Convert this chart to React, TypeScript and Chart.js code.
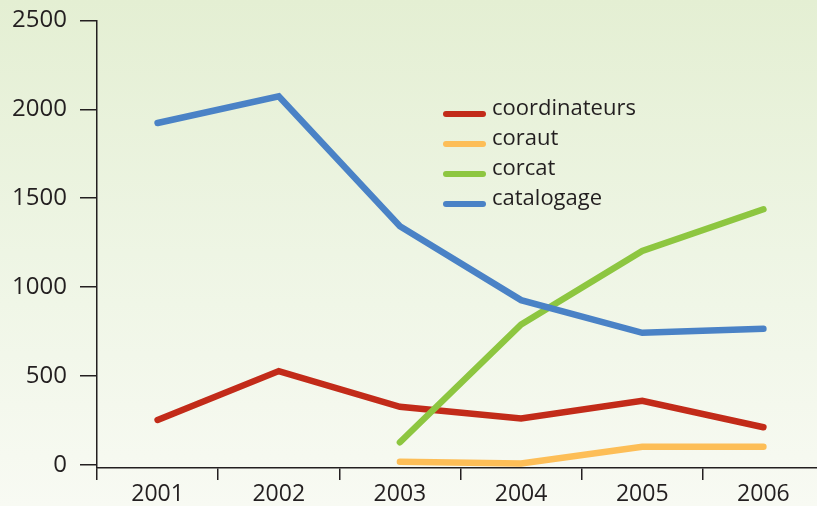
import React, { useEffect, useRef } from "react";
import { Chart, registerables } from "chart.js";

Chart.register(...registerables);

const years = ["2001", "2002", "2003", "2004", "2005", "2006"];
const coordinateurs = [253, 528, 327, 262, 361, 212];
const coraut = [null, null, 18, 9, 103, 103];
const corcat = [null, null, 128, 790, 1204, 1438];
const catalogage = [1923, 2073, 1343, 927, 743, 766];
const yTicks = [0, 500, 1000, 1500, 2000, 2500];

const seriesNames = ["coordinateurs", "coraut", "corcat", "catalogage"];
const seriesColors = ["#C22B19", "#FDBE57", "#8DC640", "#4A82C6"];

const FONT = "'Open Sans', 'DejaVu Sans', sans-serif";
const TEXT = "#231f20";
const SHIFT = 7;

const legendPlugin = {
  id: "customLegend",
  afterDatasetsDraw(chart: any) {
    const ctx = chart.ctx;
    ctx.save();
    const x0 = 446;
    const x1 = 483;
    const tx = 492;
    const y0 = 114 + SHIFT;
    const gap = 30;
    chart.data.datasets.forEach((ds: any, i: number) => {
      const y = y0 + i * gap;
      ctx.strokeStyle = ds.borderColor;
      ctx.lineWidth = 6;
      ctx.lineCap = "round";
      ctx.beginPath();
      ctx.moveTo(x0, y);
      ctx.lineTo(x1, y);
      ctx.stroke();
      ctx.fillStyle = TEXT;
      ctx.font = `22px ${FONT}`;
      ctx.textBaseline = "middle";
      ctx.textAlign = "left";
      ctx.fillText(ds.label, tx, y - 5);
    });
    ctx.restore();
  },
};

export default function App() {
  const ref = useRef<HTMLCanvasElement>(null);
  useEffect(() => {
    if (!ref.current) return;
    const data = [coordinateurs, coraut, corcat, catalogage];
    const chart = new Chart(ref.current, {
      type: "line",
      data: {
        labels: years,
        datasets: data.map((d, i) => ({
          label: seriesNames[i],
          data: d,
          borderColor: seriesColors[i],
          backgroundColor: seriesColors[i],
          borderWidth: 6.5,
          borderCapStyle: "round",
          borderJoinStyle: "miter",
          pointRadius: 0,
          pointHoverRadius: 0,
          fill: false,
          tension: 0,
          spanGaps: false,
          order: 4 - i,
        })),
      },
      options: {
        responsive: false,
        animation: false,
        events: [],
        layout: { padding: { top: 13, right: 6, left: 0, bottom: 0 } },
        plugins: {
          legend: { display: false },
          tooltip: { enabled: false },
        },
        scales: {
          x: {
            type: "category",
            offset: true,
            grid: {
              offset: true,
              drawOnChartArea: false,
              drawTicks: true,
              tickLength: 12,
              color: TEXT,
              lineWidth: 1.5,
            },
            border: { display: true, color: TEXT, width: 1.5 },
            ticks: {
              color: TEXT,
              font: { family: FONT, size: 23 },
              padding: 1,
              maxRotation: 0,
            },
            afterFit: (scale: any) => {
              scale.height = 38;
            },
          },
          y: {
            min: -17,
            max: 2500,
            afterBuildTicks: (scale: any) => {
              scale.ticks = yTicks.map((v) => ({ value: v }));
            },
            grid: {
              drawOnChartArea: false,
              drawTicks: true,
              tickLength: 17,
              color: TEXT,
              lineWidth: 1.5,
            },
            border: { display: true, color: TEXT, width: 1.5 },
            ticks: {
              color: TEXT,
              font: { family: FONT, size: 24 },
              padding: 13,
              callback: (v: any) => String(v),
            },
            afterFit: (scale: any) => {
              scale.width = 97;
            },
          },
        },
      },
      plugins: [legendPlugin],
    });
    return () => chart.destroy();
  }, []);

  return (
    <div
      style={{
        position: "fixed",
        left: 0,
        top: 0,
        width: 817,
        height: 506,
        overflow: "hidden",
        background: "linear-gradient(to bottom, #E4EFD3 0%, #EEF5E4 50%, #F8FAF3 100%)",
      }}
    >
      <canvas
        ref={ref}
        width={830}
        height={506 + SHIFT}
        style={{ display: "block", position: "absolute", left: 0, top: -SHIFT }}
      />
    </div>
  );
}
